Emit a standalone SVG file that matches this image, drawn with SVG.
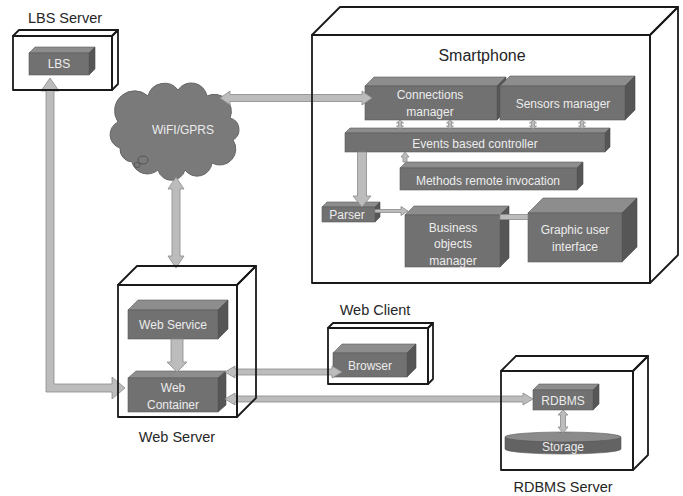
<svg xmlns="http://www.w3.org/2000/svg" width="683" height="496" viewBox="0 0 683 496">
<style>
.fr{fill:#717171;stroke:#5a5a5a;stroke-width:0.6}
.tp{fill:#8d8d8d;stroke:#5a5a5a;stroke-width:0.6}
.sd{fill:#565656;stroke:#4a4a4a;stroke-width:0.6}
.ct{fill:none;stroke:#1a1a1a;stroke-width:1.8;stroke-linejoin:round}
.ar{fill:#bcbcbc;stroke:#8a8a8a;stroke-width:0.8}
.lb{font-family:"Liberation Sans",Arial,sans-serif;font-size:14.5px;fill:#262626;text-anchor:middle}
.in{font-family:"Liberation Sans",Arial,sans-serif;font-size:12px;fill:#ececec;text-anchor:middle}
</style>
<rect width="683" height="496" fill="#ffffff"/>

<g id="cloud">
<path d="M120,148 A14,14 0 0 1 118,122 A20,20 0 0 1 148,96 A17,17 0 0 1 178,90 A16,16 0 0 1 207,96 A17,17 0 0 1 230,118 A12,12 0 0 1 233,140 A16,16 0 0 1 212,163 A15,15 0 0 1 185,170 A14,14 0 0 1 158,170 A16,16 0 0 1 132,162 A13,13 0 0 1 120,148 Z" fill="#7a7a7a" stroke="#666" stroke-width="1"/>
<ellipse cx="143" cy="160" rx="5" ry="4" fill="none" stroke="#555" stroke-width="1"/>
<ellipse cx="137" cy="165" rx="3" ry="2.5" fill="none" stroke="#555" stroke-width="1"/>
<text class="in" x="183" y="134">WiFI/GPRS</text>
</g>

<g id="lbs">
<polygon class="tp" points="29,53 35,47 95,47 89,53"/><polygon class="sd" points="89,53 95,47 95,69 89,75"/><rect class="fr" x="29" y="53" width="60" height="22"/>
<text class="in" x="59" y="68">LBS</text>
</g>
<g id="connections-manager">
<polygon class="tp" points="365,86 374,77 506,77 497,86"/><polygon class="sd" points="497,86 506,77 506,111 497,120"/><rect class="fr" x="365" y="86" width="132" height="34"/>
<text class="in" x="430" y="99">Connections</text><text class="in" x="430" y="116">manager</text>
</g>
<g id="sensors-manager">
<polygon class="tp" points="500,86 510,76 635,76 625,86"/><polygon class="sd" points="625,86 635,76 635,110 625,120"/><rect class="fr" x="500" y="86" width="125" height="34"/>
<text class="in" x="563" y="108">Sensors manager</text>
</g>
<g id="events-controller">
<polygon class="tp" points="345,133 350,128 610,128 605,133"/><polygon class="sd" points="605,133 610,128 610,147 605,152"/><rect class="fr" x="345" y="133" width="260" height="19"/>
<text class="in" x="475" y="148">Events based controller</text>
</g>
<g id="methods-remote-invocation">
<polygon class="tp" points="400,168 406,162 583,162 577,168"/><polygon class="sd" points="577,168 583,162 583,184 577,190"/><rect class="fr" x="400" y="168" width="177" height="22"/>
<text class="in" x="488" y="185">Methods remote invocation</text>
</g>
<g id="parser">
<polygon class="tp" points="322,207 327,202 380,202 375,207"/><polygon class="sd" points="375,207 380,202 380,217 375,222"/><rect class="fr" x="322" y="207" width="53" height="15"/>
<text class="in" x="347" y="219">Parser</text>
</g>
<g id="business-objects-manager">
<polygon class="tp" points="405,215 414,206 509,206 500,215"/><polygon class="sd" points="500,215 509,206 509,258 500,267"/><rect class="fr" x="405" y="215" width="95" height="52"/>
<text class="in" x="453" y="232">Business</text><text class="in" x="453" y="248">objects</text><text class="in" x="453" y="265">manager</text>
</g>
<g id="graphic-user-interface">
<polygon class="tp" points="528,213 543,198 637,198 622,213"/><polygon class="sd" points="622,213 637,198 637,247 622,262"/><rect class="fr" x="528" y="213" width="94" height="49"/>
<text class="in" x="575" y="234">Graphic user</text><text class="in" x="575" y="251">interface</text>
</g>
<g id="web-service">
<polygon class="tp" points="128,310 138,300 228,300 218,310"/><polygon class="sd" points="218,310 228,300 228,329 218,339"/><rect class="fr" x="128" y="310" width="90" height="29"/>
<text class="in" x="173" y="329">Web Service</text>
</g>
<g id="web-container">
<polygon class="tp" points="128,378 136,371 226,371 218,378"/><polygon class="sd" points="218,378 226,371 226,405 218,412"/><rect class="fr" x="128" y="378" width="90" height="34"/>
<text class="in" x="173" y="392">Web</text><text class="in" x="173" y="409">Container</text>
</g>
<g id="browser">
<polygon class="tp" points="333,353 342,344 416,344 407,353"/><polygon class="sd" points="407,353 416,344 416,368 407,377"/><rect class="fr" x="333" y="353" width="74" height="24"/>
<text class="in" x="370" y="370">Browser</text>
</g>
<g id="rdbms">
<polygon class="tp" points="533,390 539,384 599,384 593,390"/><polygon class="sd" points="593,390 599,384 599,404 593,410"/><rect class="fr" x="533" y="390" width="60" height="20"/>
<text class="in" x="563" y="405">RDBMS</text>
</g>
<g id="storage">
<path d="M505,437 L505,449 A58,5 0 0 0 621,449 L621,437 Z" fill="#636363" stroke="#555" stroke-width="0.6"/>
<ellipse cx="563" cy="437" rx="58" ry="5" fill="#8a8a8a" stroke="#555" stroke-width="0.6"/>
<text class="in" x="563" y="451">Storage</text>
</g>

<g id="connectors">
<polygon class="ar" points="50,78 59,91 54,91 54,384 112,384 112,377 125,388 112,399 112,392 46,392 46,91 41,91"/>
<polygon class="ar" points="220,98 230,91 230,94.5 362,94.5 362,91 372,98 362,105 362,101.5 230,101.5 230,105"/>
<polygon class="ar" points="176,177 184,189 180,189 180,256 184,256 176,268 168,256 172,256 172,189 168,189"/>
<polygon class="ar" points="400,120 403.5,123 401.5,123 401.5,126 403.5,126 400,129 396.5,126 398.5,126 398.5,123 396.5,123"/>
<polygon class="ar" points="450,120 453.5,123 451.5,123 451.5,126 453.5,126 450,129 446.5,126 448.5,126 448.5,123 446.5,123"/>
<polygon class="ar" points="533,120 536.5,123 534.5,123 534.5,126 536.5,126 533,129 529.5,126 531.5,126 531.5,123 529.5,123"/>
<polygon class="ar" points="582,120 585.5,123 583.5,123 583.5,126 585.5,126 582,129 578.5,126 580.5,126 580.5,123 578.5,123"/>
<polygon class="ar" points="405,152 409,157 407,157 407,162 403,162 403,157 401,157"/>
<polygon class="ar" points="357.5,152 366.5,152 366.5,196 371,196 362,207 353,196 357.5,196"/>
<polygon class="ar" points="375,209.5 401,209.5 401,206.5 408,211 401,215.5 401,212.5 375,212.5"/>
<rect class="ar" x="500" y="214.5" width="28" height="5"/>
<polygon class="ar" points="171,339 183,339 183,362 187,362 177,372 167,362 171,362"/>
<polygon class="ar" points="225,372 235,366 235,369 332,369 332,366 342,372 332,378 332,375 235,375 235,378"/>
<polygon class="ar" points="225,399 235,393 235,396 523,396 523,393 533,399 523,405 523,402 235,402 235,405"/>
<polygon class="ar" points="563,410 568,415 565.5,415 565.5,427 568,427 563,433 558,427 560.5,427 560.5,415 558,415"/>
</g>

<g id="lbs-server">
<polygon class="ct" points="13,36 19,30 118,30 112,36"/><polygon class="ct" points="112,36 118,30 118,84 112,90"/><rect class="ct" x="13" y="36" width="99" height="54"/>
<text class="lb" x="65" y="23">LBS Server</text>
</g>
<g id="smartphone">
<polygon class="ct" points="312,35 340,7 678,7 650,35"/><polygon class="ct" points="650,35 678,7 678,255 650,283"/><rect class="ct" x="312" y="35" width="338" height="248"/>
<text class="lb" x="482" y="61" style="font-size:16px">Smartphone</text>
</g>
<g id="web-server">
<polygon class="ct" points="118,285 137,266 256,266 237,285"/><polygon class="ct" points="237,285 256,266 256,398 237,417"/><rect class="ct" x="118" y="285" width="119" height="132"/>
<text class="lb" x="177" y="442">Web Server</text>
</g>
<g id="web-client">
<polygon class="ct" points="328,328 333,323 433,323 428,328"/><polygon class="ct" points="428,328 433,323 433,379 428,384"/><rect class="ct" x="328" y="328" width="100" height="56"/>
<text class="lb" x="375" y="315">Web Client</text>
</g>
<g id="rdbms-server">
<polygon class="ct" points="501,371 516,356 648,356 633,371"/><polygon class="ct" points="633,371 648,356 648,455 633,470"/><rect class="ct" x="501" y="371" width="132" height="99"/>
<text class="lb" x="563" y="492">RDBMS Server</text>
</g>
</svg>
